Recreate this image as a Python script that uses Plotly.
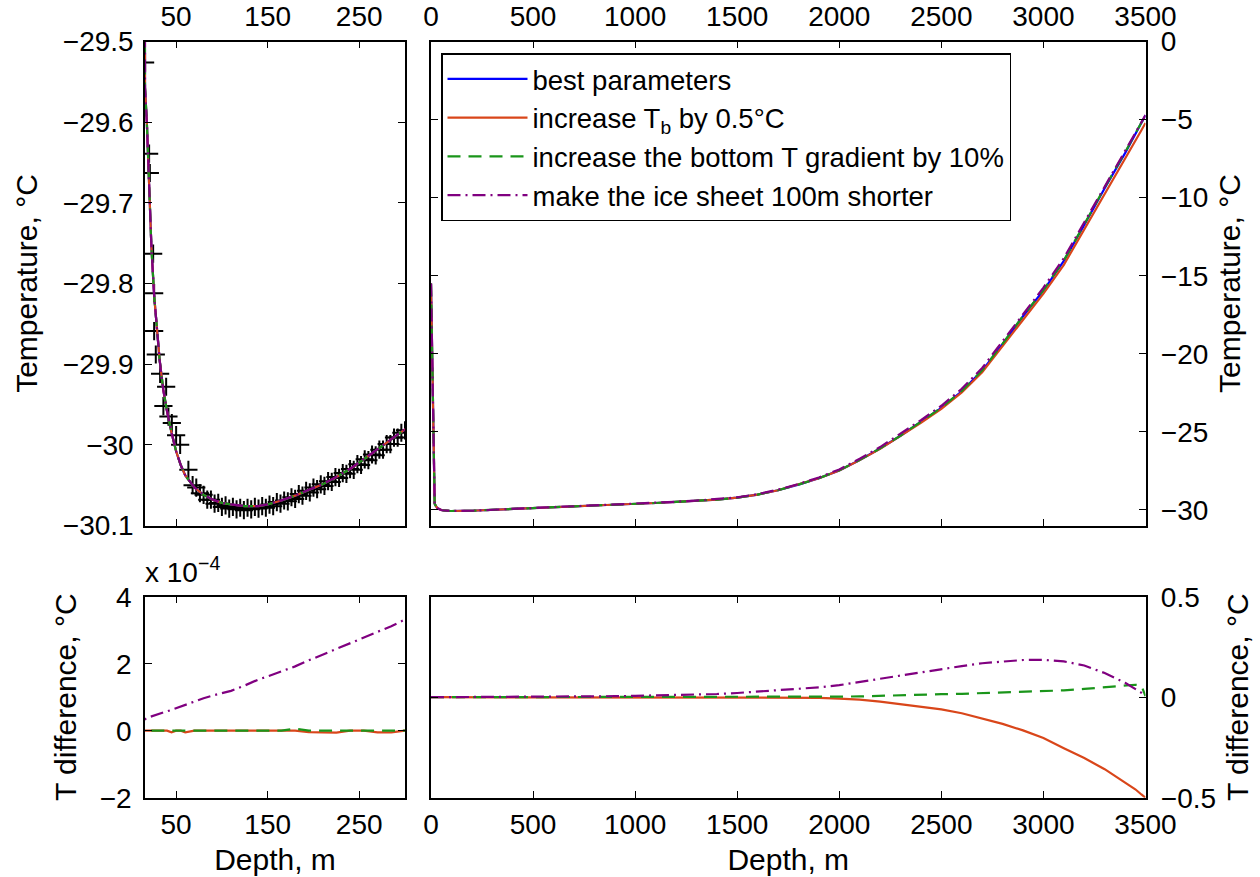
import plotly.graph_objects as go

# ---------------- data ----------------
depth = [0, 16, 18, 20, 23, 26, 29, 32, 36, 40, 45, 50, 55, 60, 70, 80, 90, 100, 110, 125,
         140, 150, 165, 180, 195, 210, 225, 240, 255, 270, 285, 300, 350, 400,
         500, 600, 700, 800, 900, 1000, 1100, 1200, 1300, 1400, 1500, 1600, 1700, 1800, 1900,
         2000, 2100, 2200, 2300, 2400, 2500, 2600, 2700, 2800, 2900, 3000, 3100, 3200, 3300,
         3400, 3450, 3480, 3500]

t_best = [-15.5, -29.557, -29.600, -29.665, -29.755, -29.815, -29.857, -29.895, -29.932, -29.958,
          -29.985, -30.008, -30.025, -30.038, -30.053, -30.062, -30.068, -30.072, -30.074, -30.076,
          -30.076, -30.074, -30.069, -30.063, -30.056, -30.049, -30.040, -30.030, -30.018, -30.006,
          -29.994, -29.981, -29.950, -29.920,
          -29.870, -29.820, -29.770, -29.720, -29.680, -29.630, -29.560, -29.490, -29.420, -29.340,
          -29.220, -29.020, -28.740, -28.380, -27.970, -27.470, -26.800, -26.070, -25.250, -24.380,
          -23.470, -22.400, -21.080, -19.380, -17.600, -15.950, -14.050, -11.750, -9.400, -7.150,
          -5.950, -5.200, -4.720]

# temperature differences relative to best parameters (deg C)
d_tb = [0, 0, 0, 0, 0, 0, 0, 0, 0, 0,
        -5e-6, 0, 0, -5e-6, 0, 0, 0, 0, 0, 0,
        0, 0, 0, 0, -4e-6, -5e-6, -6e-6, 0, 0, -5e-6,
        -5e-6, 0, 0, 0,
        0, 0, 0, 0, 0, 0, 0, 0, 0, 0,
        -0.0002, -0.0004, -0.0006, -0.001, -0.003, -0.007, -0.012, -0.022, -0.034, -0.047,
        -0.061, -0.080, -0.105, -0.133, -0.165, -0.203, -0.254, -0.303, -0.358, -0.425,
        -0.458, -0.484, -0.500]

d_grad = [0, 0, 0, 0, 0, 0, 0, 0, 0, 0,
          0, 0, 0, 0, 0, 0, 0, 0, 0, 0,
          0, 0, 0, 6e-6, 0, 0, 0, 0, 0, 0,
          0, 0, 0, 0,
          0, 0, 0, 0, 0, 0, 0, 0, 0, 0,
          0, 0.0005, 0.001, 0.0015, 0.002, 0.003, 0.004, 0.0075, 0.010, 0.013,
          0.015, 0.017, 0.020, 0.022, 0.025, 0.028, 0.034, 0.041, 0.050, 0.058,
          0.062, 0.058, 0.005]

d_short = [0, 3.6e-5, 3.8e-5, 4.0e-5, 4.3e-5, 4.6e-5, 4.9e-5, 5.2e-5, 5.5e-5, 5.8e-5,
           6.2e-5, 6.7e-5, 7.2e-5, 7.8e-5, 8.8e-5, 9.7e-5, 1.05e-4, 1.12e-4, 1.19e-4, 1.35e-4,
           1.53e-4, 1.62e-4, 1.77e-4, 1.92e-4, 2.10e-4, 2.27e-4, 2.43e-4, 2.60e-4, 2.77e-4, 2.95e-4,
           3.12e-4, 3.32e-4, 4.0e-4, 6.0e-4,
           0.0010, 0.0017, 0.0026, 0.0036, 0.0050, 0.0068, 0.0085, 0.0105, 0.013, 0.016,
           0.021, 0.028, 0.035, 0.041, 0.049, 0.060, 0.076, 0.093, 0.108, 0.124,
           0.139, 0.155, 0.169, 0.178, 0.185, 0.186, 0.178, 0.158, 0.120, 0.072,
           0.042, 0.022, 0.004]

# measured borehole temperatures (black +)
meas_depth = [16.1, 20.5, 21.3, 24.9, 26.0, 26.0, 27.8, 32.5, 39.1, 36.1, 41.6, 45.3, 50.0, 54.4,
              63.4, 68, 72, 76, 80, 84, 88, 92, 96, 100, 104, 108, 112, 116, 120, 124, 128, 132,
              136, 140, 144, 148, 152, 156, 160, 164, 168, 172, 176, 180, 184, 188, 192, 196, 200,
              204, 208, 212, 216, 220, 224, 228, 232, 236, 240, 244, 248, 252, 256, 260, 264, 268,
              272, 276, 280, 284, 288, 292, 296, 300]
meas_temp = [-29.526, -29.639, -29.663, -29.763, -29.812, -29.859, -29.888, -29.912, -29.928,
             -29.952, -29.965, -29.973, -29.988, -30.000,
             -30.031, -30.050, -30.053, -30.060, -30.062, -30.068, -30.068, -30.073, -30.072,
             -30.077, -30.075, -30.079, -30.077, -30.080, -30.078, -30.081, -30.078, -30.080,
             -30.077, -30.079, -30.076, -30.078, -30.074, -30.076, -30.071, -30.073, -30.069,
             -30.070, -30.065, -30.067, -30.061, -30.063, -30.057, -30.059, -30.053, -30.055,
             -30.049, -30.051, -30.045, -30.046, -30.040, -30.041, -30.035, -30.036, -30.030,
             -30.031, -30.024, -30.025, -30.018, -30.019, -30.012, -30.013, -30.006, -30.006,
             -29.999, -29.999, -29.991, -29.991, -29.985, -29.982]

series_names = ["best parameters", "increase T<sub>b</sub> by 0.5°C",
                "increase the bottom T gradient by 10%", "make the ice sheet 100m shorter"]
series_colors = ["#0000FF", "#D9461A", "#1A951A", "#800080"]
series_dash = ["solid", "solid", "13px,8px", "13px,5px,2px,5px"]

x_top_left_ticks = [50, 150, 250]
x_right_ticks = [0, 500, 1000, 1500, 2000, 2500, 3000, 3500]
y_tl_ticks = [-30.1, -30.0, -29.9, -29.8, -29.7, -29.6, -29.5]
y_tl_text = ["−30.1", "−30", "−29.9", "−29.8", "−29.7", "−29.6", "−29.5"]
y_tr_ticks = [-30, -25, -20, -15, -10, -5, 0]
y_tr_text = ["−30", "−25", "−20", "−15", "−10", "−5", "0"]
y_bl_ticks = [-2, 0, 2, 4]
y_bl_text = ["−2", "0", "2", "4"]
y_br_ticks = [-0.5, 0, 0.5]
y_br_text = ["−0.5", "0", "0.5"]

# ---------------- figure ----------------
diffs = [[0.0] * len(depth), d_tb, d_grad, d_short]
curves = [[t + d for t, d in zip(t_best, dd)] for dd in diffs]

fig = go.Figure()

fig.add_trace(go.Scatter(x=meas_depth, y=meas_temp, mode="markers", xaxis="x", yaxis="y",
                         marker=dict(symbol="cross-thin", size=13, color="black",
                                     line=dict(width=2, color="black")),
                         showlegend=False, hoverinfo="skip"))

for i in range(4):
    line = dict(color=series_colors[i], width=2.2, dash=series_dash[i])
    fig.add_trace(go.Scatter(x=depth, y=curves[i], mode="lines", xaxis="x", yaxis="y",
                             line=line, showlegend=False))
    fig.add_trace(go.Scatter(x=depth, y=curves[i], mode="lines", xaxis="x2", yaxis="y2",
                             line=line, name=series_names[i], showlegend=True,
                             legendgroup="g%d" % i))
    if i > 0:
        fig.add_trace(go.Scatter(x=depth, y=[v * 1e4 for v in diffs[i]], mode="lines",
                                 xaxis="x3", yaxis="y3", line=line, showlegend=False))
        fig.add_trace(go.Scatter(x=depth, y=diffs[i], mode="lines",
                                 xaxis="x4", yaxis="y4", line=line, showlegend=False))

FONT = "Liberation Sans, Arial, Helvetica, sans-serif"
tickfont = dict(family=FONT, size=28, color="black")
titlefont = dict(family=FONT, size=30, color="black")

common = dict(showline=True, linecolor="black", linewidth=1.5, mirror="ticks",
              ticks="inside", ticklen=7, tickwidth=1.3, tickcolor="black",
              showgrid=False, zeroline=False, tickfont=tickfont, automargin=False)

XL = [145 / 1260, 405 / 1260]
XR = [431 / 1260, 1145.5 / 1260]
YT = [1 - 525.5 / 877, 1 - 41.5 / 877]
YB = [1 - 797.7 / 877, 1 - 596.7 / 877]

fig.update_layout(
    width=1260, height=877,
    margin=dict(l=0, r=0, t=0, b=0, autoexpand=False),
    paper_bgcolor="white", plot_bgcolor="white",
    font=dict(family=FONT, color="black"),
    xaxis=dict(domain=XL, anchor="y", side="top", range=[16, 300],
               tickvals=x_top_left_ticks, ticklabelstandoff=3, **common),
    yaxis=dict(domain=YT, anchor="x", range=[-30.1, -29.5],
               tickvals=y_tl_ticks, ticktext=y_tl_text, ticklabelstandoff=4,
               title=dict(text="Temperature, °C", font=titlefont, standoff=16), **common),
    xaxis2=dict(domain=XR, anchor="y2", side="top", range=[0, 3500],
                tickvals=x_right_ticks, ticklabelstandoff=3, **common),
    yaxis2=dict(domain=YT, anchor="x2", side="right", range=[-31, 0],
                tickvals=y_tr_ticks, ticktext=y_tr_text, ticklabelstandoff=8,
                title=dict(text="Temperature, °C", font=titlefont, standoff=12), **common),
    xaxis3=dict(domain=XL, anchor="y3", side="bottom", range=[16, 300],
                tickvals=x_top_left_ticks, ticklabelstandoff=1,
                title=dict(text="Depth, m", font=titlefont, standoff=10), **common),
    yaxis3=dict(domain=YB, anchor="x3", range=[-2, 4],
                tickvals=y_bl_ticks, ticktext=y_bl_text, ticklabelstandoff=6,
                title=dict(text="T difference, °C", font=titlefont, standoff=14), **common),
    xaxis4=dict(domain=XR, anchor="y4", side="bottom", range=[0, 3500],
                tickvals=x_right_ticks, ticklabelstandoff=1,
                title=dict(text="Depth, m", font=titlefont, standoff=10), **common),
    yaxis4=dict(domain=YB, anchor="x4", side="right", range=[-0.5, 0.5],
                tickvals=y_br_ticks, ticktext=y_br_text, ticklabelstandoff=8,
                title=dict(text="T difference, °C", font=titlefont, standoff=12), **common),
    legend=dict(x=441 / 1260, y=1 - 53 / 877, xanchor="left", yanchor="top",
                bgcolor="white", bordercolor="black", borderwidth=1.5,
                font=dict(family=FONT, size=27.5, color="black"),
                itemwidth=80, tracegroupgap=0),
    annotations=[dict(text="x 10<sup>−4</sup>", xref="paper", yref="paper",
                      x=143 / 1260, y=1 - 590 / 877, xanchor="left", yanchor="bottom",
                      showarrow=False, font=dict(family=FONT, size=28, color="black"))],
)

fig.write_html("out.html")
